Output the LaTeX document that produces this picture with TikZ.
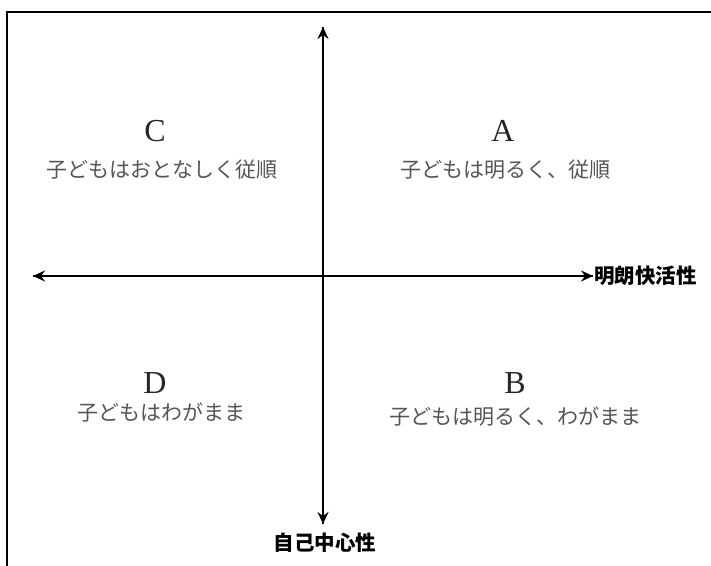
\documentclass[tikz,border=0pt]{standalone}
\usepackage{fontspec}
\setmainfont{Liberation Serif}
\newfontfamily\jp{Noto Sans CJK JP}
\usetikzlibrary{arrows.meta}
\definecolor{txtgray}{HTML}{555555}
\begin{document}
\begin{tikzpicture}[x=1pt,y=-1pt,
  axis/.style={line width=2.2pt,-{Stealth[length=12pt,width=11pt,inset=4pt]}},
  letter/.style={font=\fontsize{32}{32}\selectfont,text=black!85},
  desc/.style={font=\jp\fontsize{21}{21}\selectfont,text=txtgray},
  axlabel/.style={font=\jp\bfseries\fontsize{20.5}{20.5}\selectfont}]
\useasboundingbox (0,0) rectangle (711,565);
\begin{scope}
\clip (0,0) rectangle (711,565);
\draw[line width=2pt] (7,12) rectangle (720,580);
\end{scope}
\coordinate (top) at (323,27);
\coordinate (bot) at (323,524);
\coordinate (left) at (33,276);
\coordinate (right) at (593,276);
\draw[axis] (bot) -- (top);
\draw[axis] (top) -- (bot);
\draw[axis] (right) -- (left);
\draw[axis] (left) -- (right);
\node[axlabel,anchor=west,inner sep=1pt] (xl) at (593,276) {明朗快活性};
\node[axlabel] (yl) at (325,543) {自己中心性};
\node[letter] (C) at (155,131) {C};
\node[desc] (Ct) at (162,170) {子どもはおとなしく従順};
\node[letter] (A) at (503,131) {A};
\node[desc] (At) at (505,170) {子どもは明るく、従順};
\node[letter] (D) at (155,383) {D};
\node[desc] (Dt) at (161,412) {子どもはわがまま};
\node[letter] (B) at (515,383) {B};
\node[desc] (Bt) at (515,417) {子どもは明るく、わがまま};
\end{tikzpicture}
\end{document}
